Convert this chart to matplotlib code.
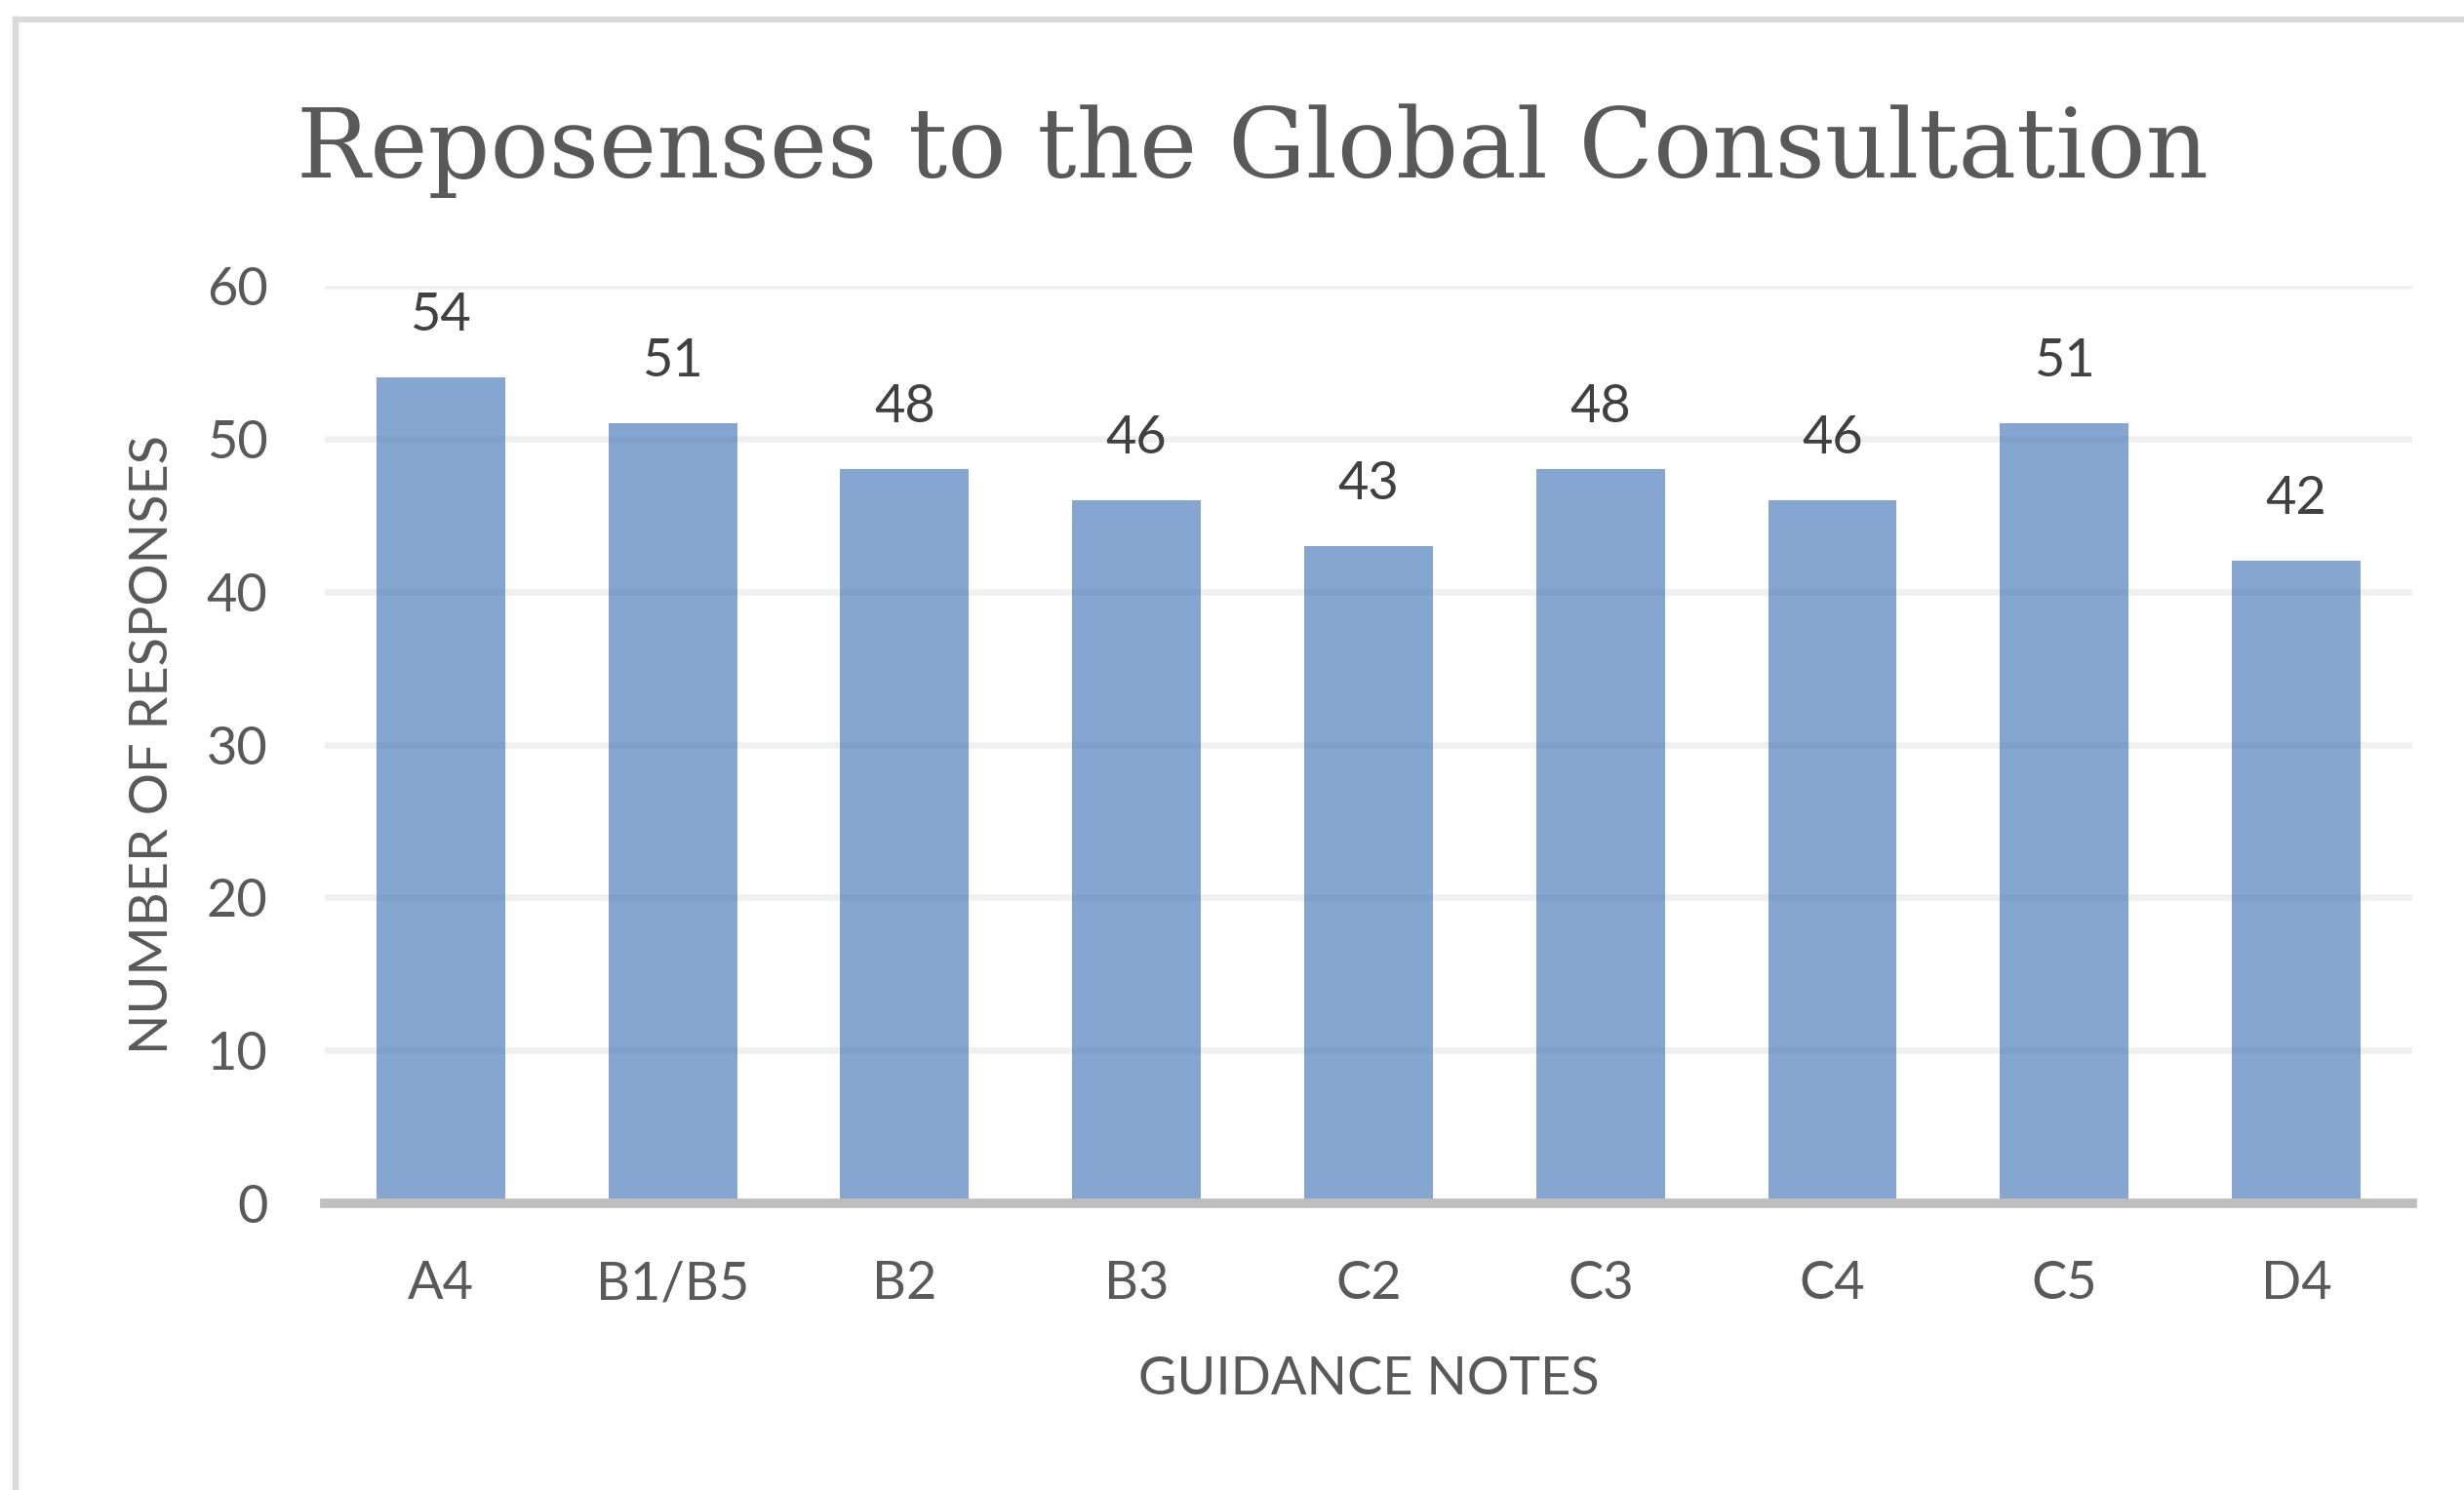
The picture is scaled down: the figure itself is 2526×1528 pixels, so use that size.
import matplotlib
matplotlib.use('Agg')
import matplotlib.pyplot as plt
from matplotlib.lines import Line2D

categories = ['A4', 'B1/B5', 'B2', 'B3', 'C2', 'C3', 'C4', 'C5', 'D4']
responses = [54, 51, 48, 46, 43, 48, 46, 51, 42]
yticks = [0, 10, 20, 30, 40, 50, 60]

title = 'Reposenses to the Global Consultation'
xlabel = 'GUIDANCE NOTES'
ylabel = 'NUMBER OF RESPONSES'

text_gray = '#595959'
label_gray = '#404040'
sans = ['Lato', 'DejaVu Sans']
fs = 39

fig = plt.figure(figsize=(25.26, 15.28), dpi=100)
ax = fig.add_axes([0.1318, 0.1924, 0.8472, 0.6158])

# gridlines under the bars
for y in yticks[1:]:
    ax.axhline(y, color='#F0F0F0', linewidth=4.8, zorder=1)

x = range(len(categories))
bars = ax.bar(x, responses, width=0.555, color='#3970B3', alpha=0.62, zorder=2)
ax.bar_label(bars, labels=[str(v) for v in responses], padding=28,
             fontsize=fs, color=label_gray, family=sans)

# category axis baseline
ax.axhline(0, color='#BFBFBF', linewidth=7, zorder=3, clip_on=False)

ax.set_xlim(-0.5, len(categories) - 0.5)
ax.set_ylim(0, 60)
ax.set_xticks(list(x))
ax.set_xticklabels(categories)
ax.set_yticks(yticks)
ax.tick_params(axis='both', length=0, labelsize=fs, labelcolor=text_gray)
ax.tick_params(axis='x', pad=42)
ax.tick_params(axis='y', pad=42)
for lab in ax.get_xticklabels() + ax.get_yticklabels():
    lab.set_family(sans)

for s in ax.spines.values():
    s.set_visible(False)

ax.set_xlabel(xlabel, fontsize=fs, color=text_gray, family=sans)
ax.xaxis.set_label_coords(0.5, -0.166)
ax.set_ylabel(ylabel, fontsize=fs, color=text_gray, family=sans)
ax.yaxis.set_label_coords(-0.071, 0.5)

fig.text(0.5083, 1 - 182 / 1528, title, ha='center', va='baseline',
         fontsize=72, color=text_gray, family='DejaVu Serif')

# chart frame, cut off on the right and bottom
fig.add_artist(Line2D([16 / 2526, 16 / 2526], [0, 1 - 20 / 1528],
                      color='#D9D9D9', linewidth=4.5, transform=fig.transFigure))
fig.add_artist(Line2D([16 / 2526, 1], [1 - 20 / 1528, 1 - 20 / 1528],
                      color='#D9D9D9', linewidth=4.5, transform=fig.transFigure))

fig.savefig('out.png', dpi=100, facecolor='white')
